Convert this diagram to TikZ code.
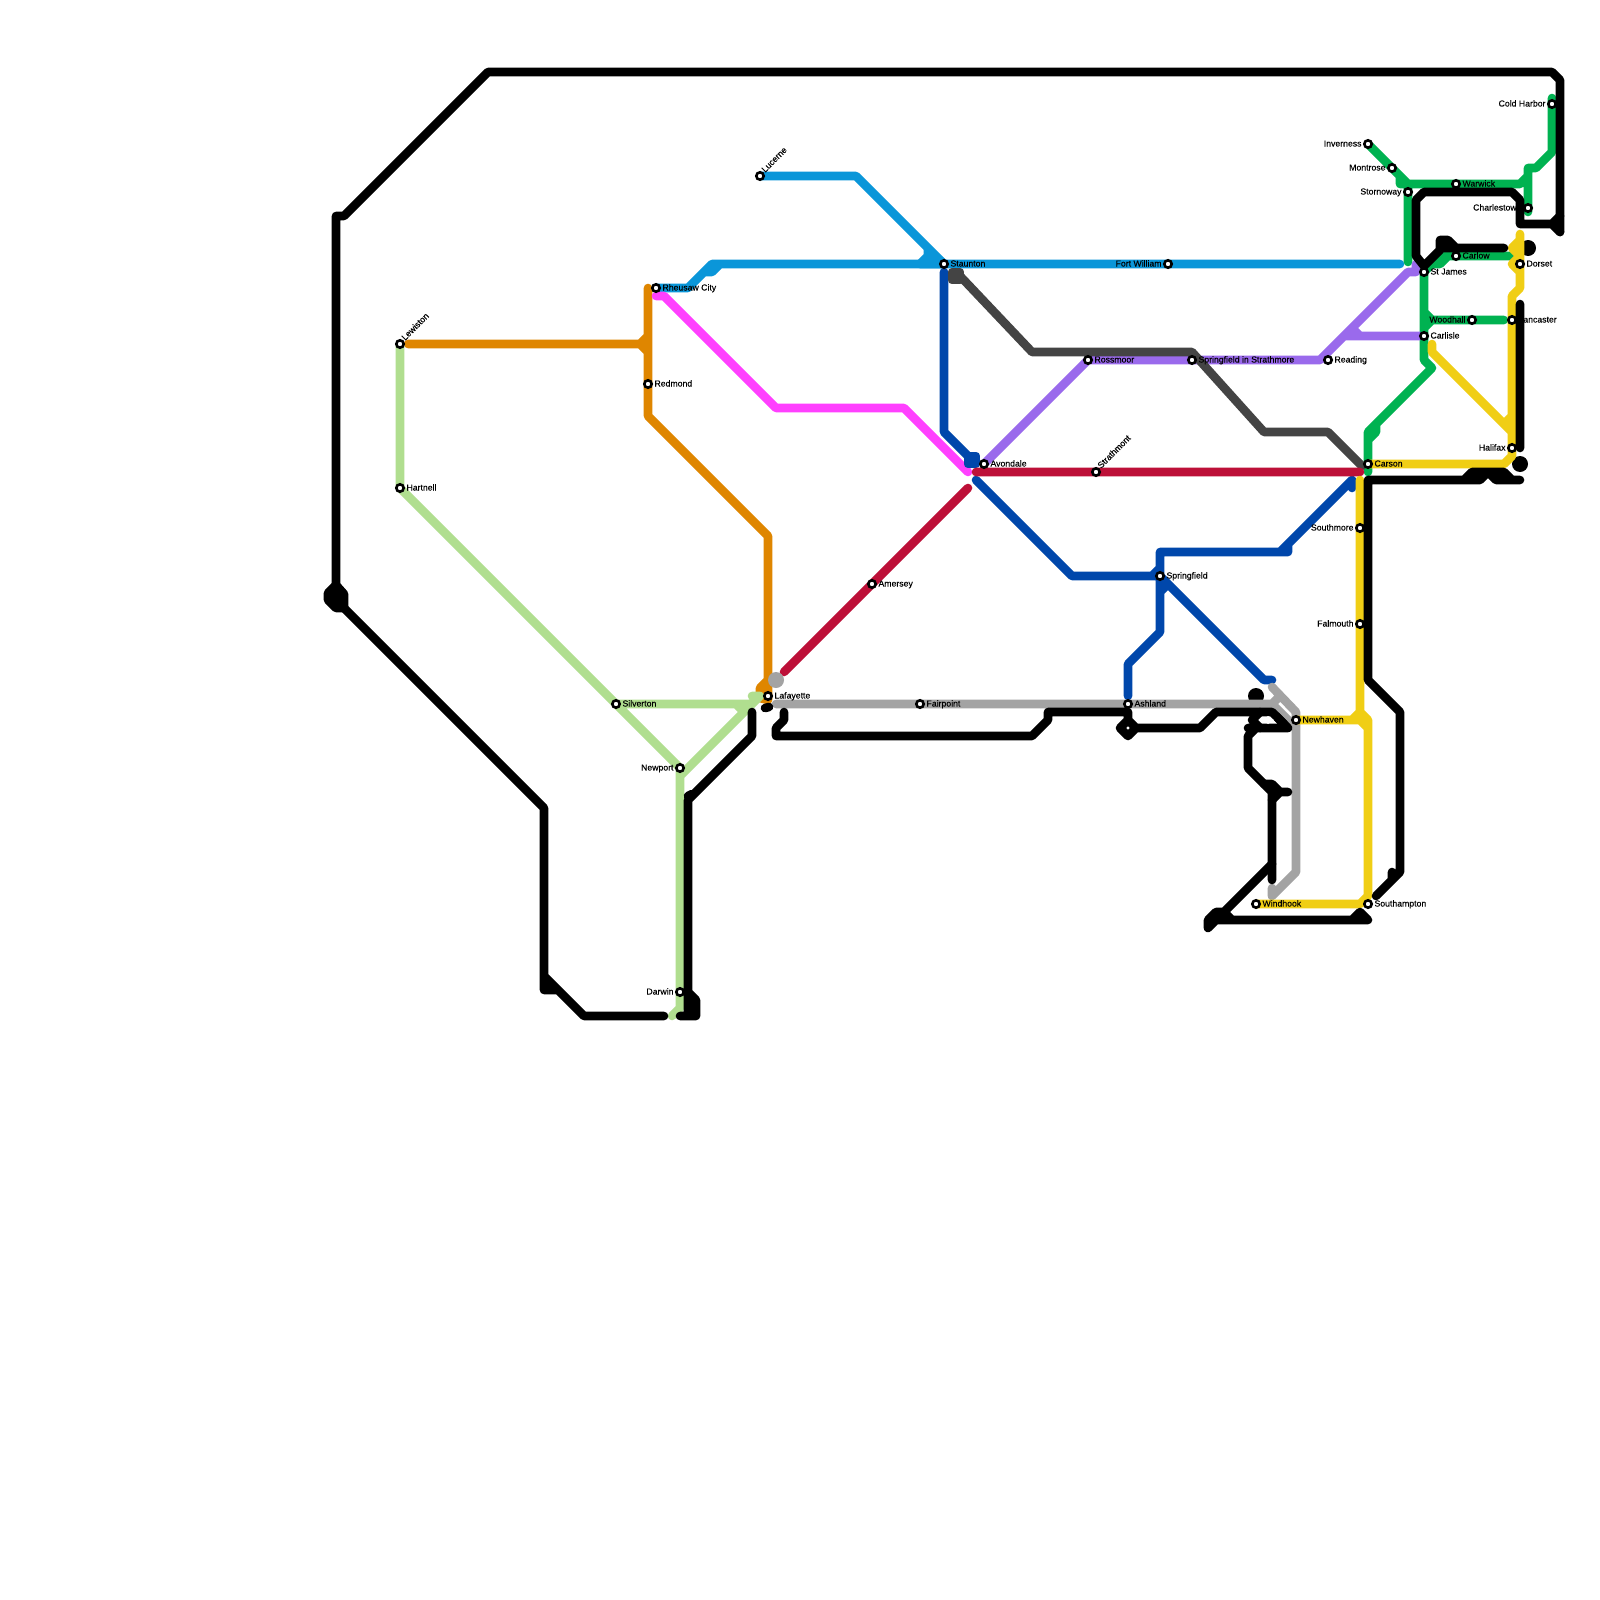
\documentclass[tikz,border=0pt]{standalone}
\usepackage{fontspec}
\setmainfont{Liberation Sans}
\newfontfamily\lblfont{Liberation Sans}[FakeBold=0.15]
\definecolor{csky}{HTML}{0A96D9}
\definecolor{cblue}{HTML}{0047AB}
\definecolor{cgray}{HTML}{A3A3A3}
\definecolor{cdark}{HTML}{444444}
\definecolor{cgreen}{HTML}{00B251}
\definecolor{clight}{HTML}{B0DE8F}
\definecolor{corange}{HTML}{DF8600}
\definecolor{cyellow}{HTML}{F0CE15}
\definecolor{cpink}{HTML}{FF40FF}
\definecolor{cred}{HTML}{BD1038}
\definecolor{cpurple}{HTML}{9A6AEC}
\tikzset{
  route/.style={line width=8.6pt,line cap=round,line join=round},
  ring/.style={circle,draw=black,fill=white,line width=2.6pt,minimum size=7.4pt,inner sep=0pt},
  lbl/.style={inner sep=0pt,font=\lblfont\fontsize{8.7}{8.7}\selectfont,text=black},
}
\newcommand\stR[4]{\coordinate (#1) at (#2,#3);\node[lbl,anchor=base west] (#1-t) at ({#2+6.3},{#3+2.5}) {#4};}
\newcommand\stL[4]{\coordinate (#1) at (#2,#3);\node[lbl,anchor=base east] (#1-t) at ({#2-6.3},{#3+2.5}) {#4};}
\newcommand\stD[4]{\coordinate (#1) at (#2,#3);\node[lbl,anchor=base west,rotate=45] (#1-t) at ({#2+5},{#3-3}) {#4};}
\newcommand\ringat[1]{\node[ring] (#1-r) at (#1) {};}
\begin{document}
\begin{tikzpicture}[x=1pt,y=-1pt]
\useasboundingbox (0,0) rectangle (1600,1600);
\fill[white] (0,0) rectangle (1600,1600);
% black discs below all lines
\fill[black] (1528,248) circle (8) (1520,464) circle (8) (1256,696) circle (8);
% orange
\draw[route,corange] (408,344)--(640,344)--(648,352) (640,344)--(648,336) (648,288)--(648,416)--(768,536)--(768,700) (768,680)--(760,688)--(760,698)--(768,700);
% light green
\draw[route,clight] (400,344)--(400,488)--(680,768)--(680,1008)--(672,1016) (680,776)--(752,704)--(760,696)--(752,696) (616,704)--(752,704) (736,704)--(744,712);
% sky
\draw[route,csky] (760,176)--(856,176)--(944,264) (656,288)--(688,288)--(712,264)--(1400,264) (704,272)--(712,272)--(720,264);
\draw[route,csky,fill=csky] (920,264)--(928,256)--(928,250)--(944,264)--cycle;
% pink
\draw[route,cpink] (656,296)--(664,296)--(776,408)--(904,408)--(968,472);
% dark blue
\draw[route,cblue] (944,272)--(944,432)--(968,456) (976,480)--(1072,576)--(1160,576)--(1264,680)--(1272,680) (1160,552)--(1160,632)--(1128,664)--(1128,696) (1160,552)--(1288,552)--(1288,544) (1280,552)--(1352,480)--(1352,488) (1152,576)--(1160,568) (1160,592)--(1168,584);
\draw[route,cblue,fill=cblue] (968,456)--(976,456)--(976,464)--(968,464)--cycle;
% green
\draw[route,cgreen] (1368,144)--(1408,184)--(1520,184)--(1528,176) (1552,98)--(1552,152)--(1536,168)--(1528,168)--(1528,212) (1408,184)--(1408,262) (1400,176)--(1400,184)--(1408,184);
\draw[route,cgreen] (1424,272)--(1424,360)--(1432,368)--(1368,432)--(1368,472) (1376,424)--(1376,432)--(1368,440) (1424,312)--(1432,320)--(1504,320) (1424,328)--(1432,320) (1424,272)--(1440,256)--(1510,256) (1432,264)--(1440,264)--(1448,256);
% purple
\draw[route,cpurple] (984,464)--(1088,360)--(1320,360)--(1408,272)--(1416,272)--(1416,264) (1344,336)--(1420,336) (1352,328)--(1360,336);
% dark grey
\draw[route,cdark,fill=cdark] (952,272)--(960,272)--(960,280)--(952,280)--cycle;
\draw[route,cdark] (960,276)--(1032,352)--(1192,352)--(1264,432)--(1328,432)--(1362,466);
% red
\draw[route,cred] (976,472)--(1360,472) (784,672)--(968,488);
% grey
\fill[cgray] (776,680) circle (8);
\draw[route,cgray] (776,704)--(1272,704)--(1280,696) (1272,704)--(1296,728) (1272,687)--(1296,712)--(1296,872)--(1272,896)--(1272,888);
% yellow
\draw[route,cyellow] (1256,904)--(1360,904)--(1368,896)--(1368,728)--(1360,720)--(1296,720) (1352,720)--(1360,712)--(1360,480) (1360,712)--(1368,720)--(1368,728);
\draw[route,cyellow] (1368,464)--(1504,464)--(1512,456)--(1512,296)--(1520,288)--(1520,234) (1520,240)--(1512,248)--(1520,256)--(1512,264)--(1520,272) (1432,344)--(1432,352)--(1512,432) (1504,424)--(1512,416);
% labels
\stD{lewiston}{400}{344}{Lewiston}
\stR{hartnell}{400}{488}{Hartnell}
\stR{silverton}{616}{704}{Silverton}
\stL{newport}{680}{768}{Newport}
\stL{darwin}{680}{992}{Darwin}
\stR{redmond}{648}{384}{Redmond}
\stR{rheusaw}{656}{288}{Rheusaw City}
\stD{lucerne}{760}{176}{Lucerne}
\stR{staunton}{944}{264}{Staunton}
\stR{avondale}{984}{464}{Avondale}
\stR{amersey}{872}{584}{Amersey}
\stD{strathmont}{1096}{472}{Strathmont}
\stR{rossmoor}{1088}{360}{Rossmoor}
\stR{strathmore}{1192}{360}{Springfield in Strathmore}
\stR{reading}{1328}{360}{Reading}
\stL{fortwilliam}{1168}{264}{Fort William}
\stR{springfield}{1160}{576}{Springfield}
\stR{lafayette}{768}{696}{Lafayette}
\stR{fairpoint}{920}{704}{Fairpoint}
\stR{ashland}{1128}{704}{Ashland}
\stR{newhaven}{1296}{720}{Newhaven}
\stR{windhook}{1256}{904}{Windhook}
\stR{southampton}{1368}{904}{Southampton}
\stL{falmouth}{1360}{624}{Falmouth}
\stL{southmore}{1360}{528}{Southmore}
\stR{carson}{1368}{464}{Carson}
\stL{halifax}{1512}{448}{Halifax}
\stR{lancaster}{1512}{320}{Lancaster}
\stL{woodhall}{1472}{320}{Woodhall}
\stR{carlisle}{1424}{336}{Carlisle}
\stR{stjames}{1424}{272}{St James}
\stR{dorset}{1520}{264}{Dorset}
\stR{carlow}{1456}{256}{Carlow}
\stL{charlestown}{1528}{208}{Charlestown}
\stR{warwick}{1456}{184}{Warwick}
\stL{stornoway}{1408}{192}{Stornoway}
\stL{montrose}{1392}{168}{Montrose}
\stL{inverness}{1368}{144}{Inverness}
\stL{coldharbor}{1552}{104}{Cold Harbor}
% black line
\draw[route,black] (1560,232)--(1560,80)--(1552,72)--(488,72)--(344,216)--(336,216)--(336,590) (344,608)--(544,808)--(544,990)--(556,990) (544,976)--(584,1016)--(664,1016);
\draw[route,black,fill=black] (336,585)--(328,593)--(328,600)--(336,608)--(344,608)--(344,594)--cycle;
\draw[route,black] (752,712)--(752,736)--(688,800)--(688,1016) (688,796)--(692,794) (680,1016)--(696,1016)--(696,1000)--(688,992) (688,1008)--(696,1008);
\draw[route,black] (765,708)--(769,707) (784,712)--(784,720)--(776,728)--(776,736)--(1032,736)--(1048,720)--(1048,712)--(1128,712)--(1128,720) (1128,720)--(1136,728)--(1128,736)--(1120,728)--cycle (1136,728)--(1200,728)--(1216,712)--(1272,712)--(1288,728)--(1256,728)--(1248,736)--(1248,768)--(1272,792)--(1272,880) (1248,728)--(1256,728);
\draw[route,black] (1260,712)--(1252,720)--(1260,728) (1276,716)--(1284,724) (1264,784)--(1272,784)--(1280,792)--(1288,792) (1272,800)--(1280,792);
\draw[route,black] (1272,864)--(1208,928)--(1208,920)--(1216,912)--(1224,912)--(1232,920) (1208,920)--(1368,920) (1352,920)--(1360,912)--(1368,920);
\draw[route,black] (1376,896)--(1400,872)--(1400,712)--(1368,680)--(1368,480)--(1480,480) (1496,480)--(1520,480) (1464,480)--(1472,472)--(1504,472)--(1512,480) (1480,480)--(1488,472)--(1496,480) (1392,880)--(1392,872);
\draw[route,black] (1520,304)--(1520,448) (1560,216)--(1552,224)--(1520,224)--(1520,200)--(1512,192)--(1424,192)--(1416,200)--(1416,256)--(1424,266)--(1440,250)--(1440,240)--(1448,240)--(1456,248)--(1504,248) (1440,248)--(1456,248) (1552,224)--(1560,232);
\fill[white] (1262,720)--(1268,716)--(1274,720)--(1268,724)--cycle;
% station rings
\foreach \s in {lewiston,hartnell,silverton,newport,darwin,redmond,rheusaw,lucerne,staunton,avondale,amersey,strathmont,rossmoor,strathmore,reading,fortwilliam,springfield,lafayette,fairpoint,ashland,newhaven,windhook,southampton,falmouth,southmore,carson,halifax,lancaster,woodhall,carlisle,stjames,dorset,carlow,charlestown,warwick,stornoway,montrose,inverness,coldharbor}{\ringat{\s}}
\end{tikzpicture}
\end{document}
